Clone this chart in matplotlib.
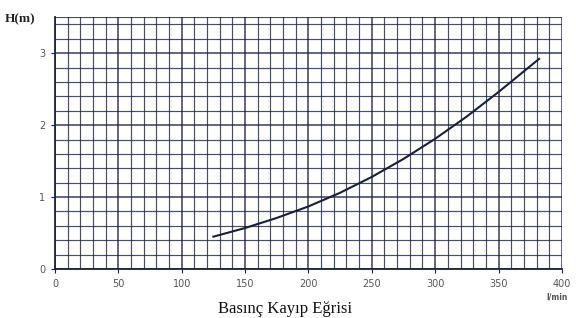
import matplotlib.pyplot as plt
import numpy as np

# Basınç kayıp eğrisi: debi (l/min) - basma yüksekliği kaybı (m)
flow = [125, 150, 175, 200, 225, 250, 275, 300, 325, 350, 382]
head = [0.45, 0.57, 0.71, 0.87, 1.06, 1.28, 1.53, 1.81, 2.12, 2.46, 2.92]

x_ticks = [0, 50, 100, 150, 200, 250, 300, 350, 400]
y_ticks = [0, 1, 2, 3]

GRID = "#1c2140"

fig = plt.figure(figsize=(5.76, 3.18), dpi=100)
ax = fig.add_axes([0.0955, 0.154, 0.880, 0.792])

ax.set_xlim(0, 400)
ax.set_ylim(0, 3.5)

# millimetric-style grid: every 10 l/min and every 0.2 m
for xv in np.arange(0, 401, 10):
    lw = 1.2 if xv % 50 == 0 else 0.85
    ax.axvline(xv, color=GRID, lw=lw, alpha=0.8, zorder=1)
for yv in np.arange(0, 3.41, 0.2):
    lw = 1.2 if abs(yv - round(yv)) < 1e-6 else 0.85
    ax.axhline(yv, color=GRID, lw=lw, alpha=0.8, zorder=1)
ax.axhline(3.5, color=GRID, lw=0.85, alpha=0.8, zorder=1)

ax.plot(flow, head, color="#1a1f38", lw=1.5, zorder=3,
        solid_joinstyle="round")

ax.set_xticks(x_ticks)
ax.set_yticks(y_ticks)
ax.tick_params(axis="both", length=3, width=0.8, color=GRID,
               labelsize=7, labelcolor="#555555", pad=4)
for s in ["top", "right"]:
    ax.spines[s].set_visible(False)
for s in ["left", "bottom"]:
    ax.spines[s].set_color(GRID)
    ax.spines[s].set_linewidth(1.3)

fig.text(0.008, 0.93, "H(m)", fontsize=9.5, fontweight="bold",
         family="Liberation Serif", color="#222222")
fig.text(0.948, 0.058, "l/min", fontsize=5.5, fontweight="bold",
         color="#555555")
fig.text(0.495, 0.002, "Basınç Kayıp Eğrisi", fontsize=12,
         family="Liberation Serif", color="#111111", ha="center", va="bottom")

fig.savefig("out.png", dpi=100)
